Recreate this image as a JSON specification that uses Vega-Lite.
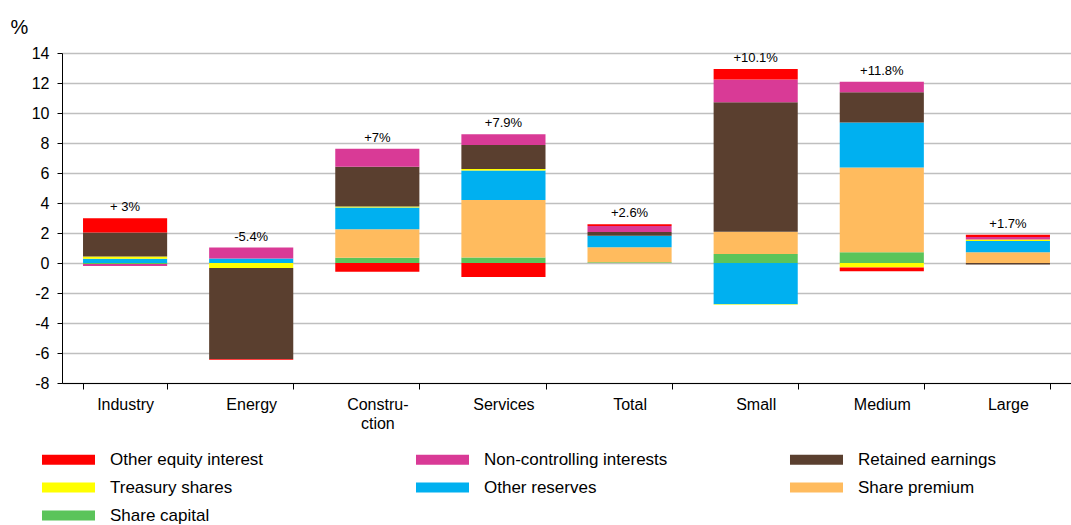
{
  "$schema": "https://vega.github.io/schema/vega-lite/v6.json",
  "autosize": {"type": "none"},
  "padding": {"left": 62, "top": 53, "right": 0, "bottom": 142},
  "width": 1009,
  "height": 330,
  "config": {
    "view": {"stroke": null},
    "font": "Liberation Sans",
    "text": {"font": "Liberation Sans"}
  },
  "datasets": {
    "parts": [
      {"category": "Industry", "component": "Share capital", "value": -0.07},
      {"category": "Industry", "component": "Other reserves", "value": 0.29},
      {"category": "Industry", "component": "Treasury shares", "value": 0.15},
      {"category": "Industry", "component": "Retained earnings", "value": 1.6},
      {"category": "Industry", "component": "Non-controlling interests", "value": -0.13},
      {"category": "Industry", "component": "Other equity interest", "value": 0.95},
      {"category": "Energy", "component": "Other reserves", "value": 0.3},
      {"category": "Energy", "component": "Non-controlling interests", "value": 0.73},
      {"category": "Energy", "component": "Treasury shares", "value": -0.33},
      {"category": "Energy", "component": "Retained earnings", "value": -6.07},
      {"category": "Energy", "component": "Other equity interest", "value": -0.05},
      {"category": "Construction", "component": "Share capital", "value": 0.35},
      {"category": "Construction", "component": "Share premium", "value": 1.9},
      {"category": "Construction", "component": "Other reserves", "value": 1.45},
      {"category": "Construction", "component": "Treasury shares", "value": 0.07},
      {"category": "Construction", "component": "Retained earnings", "value": 2.65},
      {"category": "Construction", "component": "Non-controlling interests", "value": 1.2},
      {"category": "Construction", "component": "Other equity interest", "value": -0.58},
      {"category": "Services", "component": "Share capital", "value": 0.36},
      {"category": "Services", "component": "Share premium", "value": 3.84},
      {"category": "Services", "component": "Other reserves", "value": 1.96},
      {"category": "Services", "component": "Treasury shares", "value": 0.1},
      {"category": "Services", "component": "Retained earnings", "value": 1.6},
      {"category": "Services", "component": "Non-controlling interests", "value": 0.72},
      {"category": "Services", "component": "Other equity interest", "value": -0.93},
      {"category": "Total", "component": "Share capital", "value": 0.05},
      {"category": "Total", "component": "Share premium", "value": 1.0},
      {"category": "Total", "component": "Other reserves", "value": 0.77},
      {"category": "Total", "component": "Retained earnings", "value": 0.25},
      {"category": "Total", "component": "Non-controlling interests", "value": 0.4},
      {"category": "Total", "component": "Other equity interest", "value": 0.11},
      {"category": "Small", "component": "Share capital", "value": 0.6},
      {"category": "Small", "component": "Share premium", "value": 1.49},
      {"category": "Small", "component": "Other reserves", "value": -2.75},
      {"category": "Small", "component": "Treasury shares", "value": -0.04},
      {"category": "Small", "component": "Retained earnings", "value": 8.62},
      {"category": "Small", "component": "Non-controlling interests", "value": 1.53},
      {"category": "Small", "component": "Other equity interest", "value": 0.69},
      {"category": "Medium", "component": "Share capital", "value": 0.71},
      {"category": "Medium", "component": "Share premium", "value": 5.65},
      {"category": "Medium", "component": "Other reserves", "value": 3.0},
      {"category": "Medium", "component": "Treasury shares", "value": -0.3},
      {"category": "Medium", "component": "Retained earnings", "value": 2.02},
      {"category": "Medium", "component": "Non-controlling interests", "value": 0.71},
      {"category": "Medium", "component": "Other equity interest", "value": -0.25},
      {"category": "Large", "component": "Share premium", "value": 0.72},
      {"category": "Large", "component": "Other reserves", "value": 0.74},
      {"category": "Large", "component": "Treasury shares", "value": 0.1},
      {"category": "Large", "component": "Retained earnings", "value": -0.1},
      {"category": "Large", "component": "Non-controlling interests", "value": 0.17},
      {"category": "Large", "component": "Other equity interest", "value": 0.16}
    ],
    "totals": [
      {"category": "Industry", "value": 3.0, "label": "+ 3%"},
      {"category": "Energy", "value": 1.03, "label": "-5.4%"},
      {"category": "Construction", "value": 7.62, "label": "+7%"},
      {"category": "Services", "value": 8.58, "label": "+7.9%"},
      {"category": "Total", "value": 2.58, "label": "+2.6%"},
      {"category": "Small", "value": 12.93, "label": "+10.1%"},
      {"category": "Medium", "value": 12.09, "label": "+11.8%"},
      {"category": "Large", "value": 1.89, "label": "+1.7%"}
    ]
  },
  "encoding": {
    "x": {
      "field": "category",
      "type": "nominal",
      "sort": ["Industry", "Energy", "Construction", "Services", "Total", "Small", "Medium", "Large"],
      "scale": {"paddingInner": 0.333, "paddingOuter": 0.1667},
      "axis": {
        "title": null,
        "labelAngle": 0,
        "labelFontSize": 16,
        "labelColor": "#000000",
        "labelPadding": 7,
        "labelExpr": "datum.value == 'Construction' ? ['Constru-', 'ction'] : datum.value",
        "labelLineHeight": 19,
        "domainColor": "#000000",
        "tickColor": "#000000",
        "tickBand": "extent",
        "tickSize": 6,
        "grid": false
      }
    },
    "y": {
      "field": "value",
      "type": "quantitative",
      "stack": "zero",
      "scale": {"domain": [-8, 14], "nice": false, "zero": false},
      "axis": {
        "values": [-8, -6, -4, -2, 0, 2, 4, 6, 8, 10, 12, 14],
        "labelOverlap": false,
        "labelExpr": "(datum.value < 0 ? '-' : '') + abs(datum.value)",
        "title": "%",
        "titleAngle": 0,
        "titleX": -52,
        "titleY": -20,
        "titleAlign": "left",
        "titleBaseline": "alphabetic",
        "titleFontSize": 20,
        "titleFontWeight": "normal",
        "titleColor": "#000000",
        "labelFontSize": 16,
        "labelColor": "#000000",
        "labelPadding": 8,
        "domainColor": "#000000",
        "tickColor": "#000000",
        "tickSize": 5,
        "gridColor": "#BFBFBF",
        "gridWidth": 1.3
      }
    }
  },
  "layer": [
    {
      "data": {"name": "parts"},
      "transform": [
        {"calculate": "indexof(['Share capital','Share premium','Other reserves','Treasury shares','Retained earnings','Non-controlling interests','Other equity interest'], datum.component)", "as": "stackorder"}
      ],
      "mark": {"type": "bar"},
      "encoding": {
        "color": {
          "field": "component",
          "type": "nominal",
          "scale": {
            "domain": ["Other equity interest", "Non-controlling interests", "Retained earnings", "Treasury shares", "Other reserves", "Share premium", "Share capital"],
            "range": ["#FF0000", "#D93A96", "#5A3F2F", "#FFFF00", "#00B0F0", "#FFBB5E", "#5BC45A"]
          },
          "legend": {
            "title": null,
            "orient": "none",
            "legendX": -2,
            "legendY": 398,
            "direction": "horizontal",
            "columns": 3,
            "gridAlign": "all",
            "columnPadding": 121,
            "rowPadding": 10,
            "symbolType": "M-4,-0.755L4,-0.755L4,0.755L-4,0.755Z",
            "symbolSize": 175.6,
            "symbolStrokeWidth": 0,
            "symbolOpacity": 1,
            "labelFontSize": 17,
            "labelColor": "#000000",
            "labelOffset": 33,
            "labelLimit": 400
          }
        },
        "order": {"field": "stackorder", "type": "quantitative"}
      }
    },
    {
      "data": {"name": "totals"},
      "mark": {"type": "text", "fontSize": 13, "color": "#000000", "dy": -11, "baseline": "middle"},
      "encoding": {
        "text": {"field": "label"}
      }
    }
  ]
}
